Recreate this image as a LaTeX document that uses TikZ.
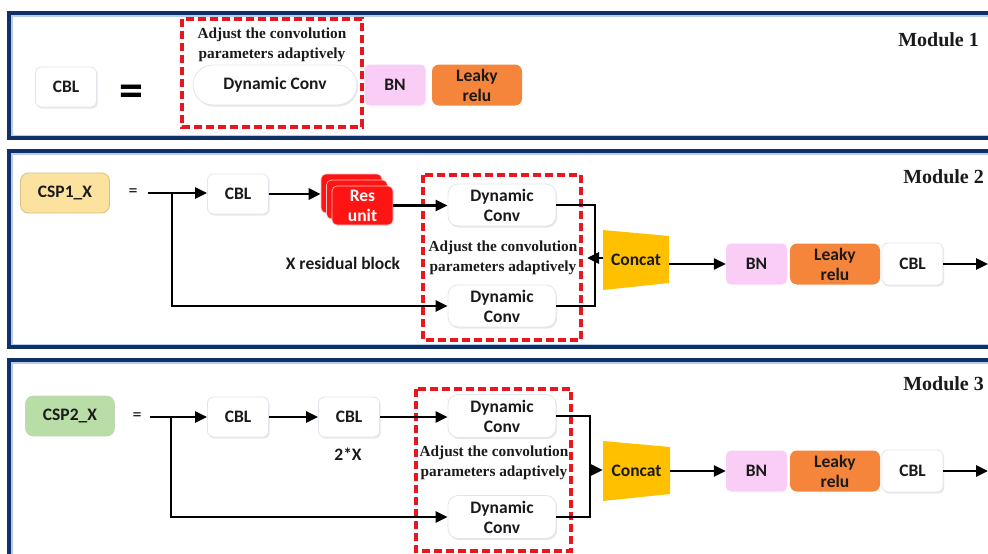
\documentclass[tikz,border=0pt]{standalone}
\usepackage{fontspec}
\setmainfont{Liberation Serif}
\newfontfamily\calfont{Carlito}
\usetikzlibrary{arrows.meta,shadows,calc}

\definecolor{navy}{HTML}{10306A}
\definecolor{frameglow}{HTML}{B7CCE6}
\definecolor{dashred}{HTML}{E8161E}
\definecolor{bnpink}{HTML}{F9CDF5}
\definecolor{relu}{HTML}{F5853A}
\definecolor{concatc}{HTML}{FFC000}
\definecolor{cspyellow}{HTML}{FBE29E}
\definecolor{cspyellowline}{HTML}{D8C07E}
\definecolor{cspgreen}{HTML}{B9DDA6}
\definecolor{resred}{HTML}{FF1414}
\definecolor{boxline}{HTML}{E1E6EC}
\definecolor{ink}{HTML}{1A1A1A}

\tikzset{
  lbl/.style={font=\calfont\bfseries\fontsize{17.5}{20}\selectfont, text=ink,
    align=center, inner sep=0pt},
  note/.style={font=\bfseries\fontsize{15.3}{20}\selectfont, text=ink,
    align=center, inner sep=0pt},
  modtitle/.style={font=\bfseries\fontsize{20}{22}\selectfont, text=ink,
    inner sep=0pt, anchor=east},
  softshadow/.style={drop shadow={shadow xshift=1.2pt, shadow yshift=-1.6pt,
    opacity=0.16, fill=black!55}},
  whitebox/.style={lbl, draw=boxline, line width=0.8pt, fill=white,
    rounded corners=6pt, softshadow},
  dynbox/.style={whitebox, rounded corners=10pt, minimum width=108pt,
    minimum height=42pt},
  pillbox/.style={whitebox, rounded corners=20pt, minimum width=164pt,
    minimum height=40pt},
  bnbox/.style={lbl, fill=bnpink, rounded corners=5pt, minimum width=61pt,
    minimum height=41pt},
  relubox/.style={lbl, fill=relu, rounded corners=7pt, minimum width=90pt,
    minimum height=41pt},
  cblbox/.style={whitebox, minimum width=61pt, minimum height=40pt},
  cspbox/.style={lbl, rounded corners=8pt, minimum width=89pt,
    minimum height=40pt, line width=0.8pt},
  reslayer/.style={lbl, text=white, fill=resred, draw=white!75!resred,
    line width=0.6pt, rounded corners=5pt, minimum width=61pt,
    minimum height=39pt},
  concat/.style={lbl, minimum width=66pt, minimum height=60pt,
    path picture={\fill[concatc] (path picture bounding box.north west)
      -- ($(path picture bounding box.north east)+(0,-6pt)$)
      -- ($(path picture bounding box.south east)+(0,7pt)$)
      -- (path picture bounding box.south west) -- cycle;}},
  frame/.style={draw=navy, line width=3.8pt},
  glow/.style={draw=frameglow, line width=1.2pt},
  redzone/.style={draw=dashred, line width=3.2pt, dash pattern=on 8pt off 4pt},
  conn/.style={draw=black, line width=2.8pt},
  arrow/.style={conn, -{Triangle[length=12pt,width=11pt]}},
}

\begin{document}
\begin{tikzpicture}[x=1pt, y=-1pt]
\useasboundingbox (0,0) rectangle (988,554);
\clip (0,0) rectangle (988,554);
\fill[white] (0,0) rectangle (988,554);

% ---------- module frames ----------
\draw[frame] (9,13) rectangle (1010,138);
\draw[glow] (11.9,15.9) rectangle (1010,135.1);
\draw[frame] (9,151) rectangle (1010,347);
\draw[glow] (11.9,153.9) rectangle (1010,344.1);
\draw[frame] (9,360) rectangle (1010,620);
\draw[glow] (11.9,362.9) rectangle (1010,620);

% ---------- Module 1: CBL definition ----------
\node[modtitle] (m1) at (979,40) {Module 1};
\node[cblbox] (cbl1) at (66,87) {CBL};
\node[font=\calfont\bfseries\fontsize{48}{48}\selectfont, inner sep=0pt] (eq1) at (131,96) {=};
\draw[redzone] (182,19) rectangle (362,127);
\node[note] (adj1) at (272,45) {Adjust the convolution\\parameters adaptively};
\node[pillbox] (dc1) at (275,85) {Dynamic Conv};
\node[bnbox] (bn1) at (395,85) {BN};
\node[relubox] (lr1) at (477,85) {Leaky\\relu};

% ---------- Module 2: CSP1_X ----------
\node[modtitle] (m2) at (984,177) {Module 2};
\node[cspbox, fill=cspyellow, draw=cspyellowline] (csp1) at (65,193) {CSP1\_X};
\node[font=\calfont\fontsize{18}{18}\selectfont, inner sep=0pt] (eq2) at (133,193) {=};
\coordinate (s2) at (148,193);
\coordinate (b2) at (172,193);
\node[cblbox] (cbl2a) at (238,194) {CBL};
\node[reslayer] (res3) at (351.5,193.5) {};
\node[reslayer] (res2) at (357,199.5) {};
\node[reslayer] (res1) at (362.5,205.5) {Res\\unit};
\node[lbl] (xres) at (343,263) {X residual block};
\draw[redzone] (423,175) rectangle (581,340);
\node[dynbox] (dc2a) at (502,205) {Dynamic\\Conv};
\node[note] (adj2) at (503,258) {Adjust the convolution\\parameters adaptively};
\node[dynbox] (dc2b) at (502,306) {Dynamic\\Conv};
\coordinate (j2) at (595,258);
\node[concat] (cat2) at (636,260) {Concat};
\node[bnbox] (bn2) at (756.5,264) {BN};
\node[relubox] (lr2) at (835,264) {Leaky\\relu};
\node[cblbox, minimum height=42pt] (cbl2b) at (912.5,264) {CBL};
\coordinate (out2) at (988,264);

\draw[arrow] (s2) -- (s2 -| cbl2a.west);
\draw[arrow] (b2) |- (dc2b.west);
\draw[arrow] (cbl2a.east) -- (cbl2a.east -| res3.west);
\draw[arrow] (res1.east) -- (res1.east -| dc2a.west);
\draw[conn] (dc2a.east) -| (j2);
\draw[conn] (dc2b.east) -| (j2);
\draw[arrow] (cat2.west |- j2) -- ($(j2)+(-8,0)$);
\draw[arrow] (cat2.east |- bn2.west) -- (bn2.west);
\draw[arrow] (cbl2b.east) -- (out2);

% ---------- Module 3: CSP2_X ----------
\node[modtitle] (m3) at (984,384) {Module 3};
\node[cspbox, fill=cspgreen, draw=cspgreen!85!black!60] (csp2) at (70,416) {CSP2\_X};
\node[font=\calfont\fontsize{18}{18}\selectfont, inner sep=0pt] (eq3) at (137,417) {=};
\coordinate (s3) at (150,417);
\coordinate (b3) at (171,417);
\node[cblbox] (cbl3a) at (238,417) {CBL};
\node[cblbox] (cbl3b) at (349,417) {CBL};
\node[lbl] (twox) at (348,454) {2*X};
\draw[redzone] (416,389) rectangle (571,551);
\node[dynbox, minimum height=43pt] (dc3a) at (502,416) {Dynamic\\Conv};
\node[note] (adj3) at (494,463) {Adjust the convolution\\parameters adaptively};
\node[dynbox, minimum height=43pt] (dc3b) at (502,517) {Dynamic\\Conv};
\coordinate (j3) at (590,470);
\node[concat, minimum width=67pt] (cat3) at (636.5,471) {Concat};
\node[bnbox] (bn3) at (756.5,471) {BN};
\node[relubox] (lr3) at (835,471) {Leaky\\relu};
\node[cblbox, minimum height=42pt] (cbl3c) at (912.5,471) {CBL};
\coordinate (out3) at (988,471);

\draw[arrow] (s3) -- (s3 -| cbl3a.west);
\draw[arrow] (b3) |- (dc3b.west);
\draw[arrow] (cbl3a.east) -- (cbl3b.west);
\draw[arrow] (cbl3b.east) -- (cbl3b.east -| dc3a.west);
\draw[conn] (dc3a.east) -| (j3);
\draw[conn] (dc3b.east) -| (j3);
\draw[arrow] (j3) -- (j3 -| cat3.west);
\draw[arrow] (cat3.east |- bn3.west) -- (bn3.west);
\draw[arrow] (cbl3c.east) -- (out3);
\end{tikzpicture}
\end{document}
